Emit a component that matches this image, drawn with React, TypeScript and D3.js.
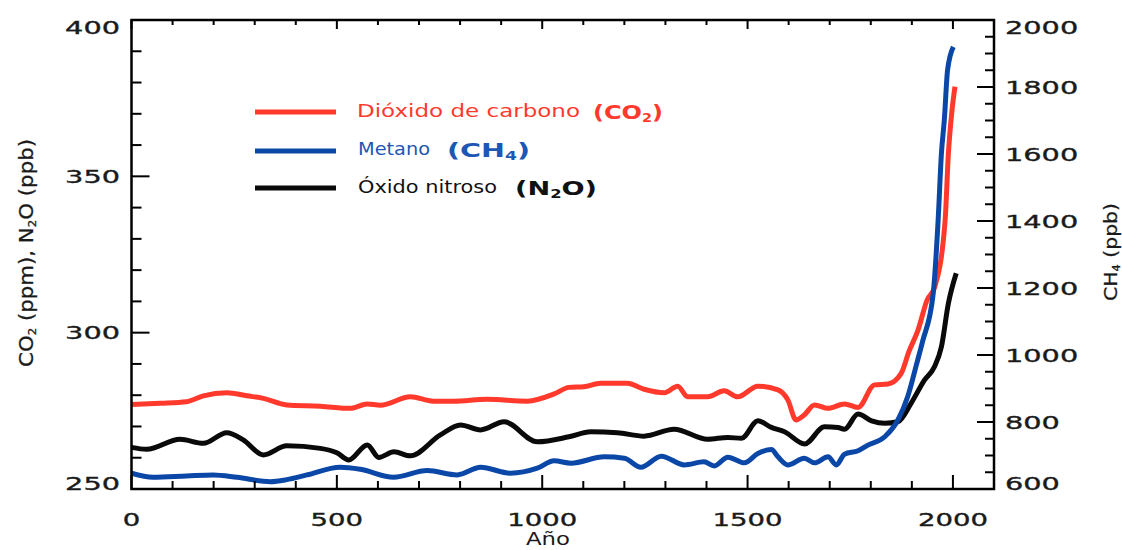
import React from 'react';
import * as d3 from 'd3';

// ---- Data ----
const co2Years = [0, 70, 134, 175, 232, 281, 321, 378, 460, 533, 574, 606, 679, 735, 784, 866, 964, 1029, 1065, 1101, 1142, 1207, 1248, 1297, 1330, 1354, 1403, 1443, 1476, 1525, 1574, 1598, 1618, 1638, 1663, 1696, 1736, 1769, 1809, 1842, 1874, 1893, 1915, 1937, 1956, 1981, 1989, 1997, 2005];
const co2Values = [277, 277.4, 277.9, 279.8, 280.8, 279.8, 279, 276.9, 276.5, 275.8, 277.2, 276.8, 279.5, 278.1, 278.1, 278.7, 278.1, 280.4, 282.5, 282.7, 283.8, 283.8, 281.9, 280.8, 282.9, 279.5, 279.5, 281.4, 279.5, 282.9, 281.7, 278.5, 272.1, 273.7, 276.9, 275.8, 277.2, 276.1, 283.3, 283.6, 287, 294, 300.8, 310.4, 314.7, 336, 357.4, 370.2, 378.7];

const ch4Years = [0, 52, 134, 199, 257, 338, 378, 427, 508, 557, 638, 720, 793, 850, 923, 988, 1029, 1070, 1151, 1200, 1240, 1290, 1346, 1394, 1419, 1452, 1492, 1525, 1558, 1574, 1598, 1638, 1663, 1696, 1716, 1736, 1769, 1793, 1834, 1866, 1890, 1912, 1926, 1952, 1964, 1972, 1979, 1987, 2001];
const ch4Values = [647, 635, 639, 642, 635, 622, 628, 642, 665, 659, 635, 655, 642, 665, 647, 662, 684, 677, 696, 692, 665, 698, 672, 681, 669, 695, 678, 706, 718, 696, 672, 692, 678, 696, 672, 704, 714, 731, 756, 806, 876, 975, 1040, 1184, 1403, 1602, 1701, 1851, 1920];

const n2oYears = [0, 37, 118, 175, 232, 272, 321, 378, 460, 500, 529, 574, 602, 639, 679, 752, 801, 850, 907, 988, 1065, 1118, 1183, 1248, 1321, 1403, 1452, 1485, 1525, 1558, 1590, 1639, 1687, 1720, 1736, 1769, 1802, 1834, 1866, 1898, 1931, 1955, 1972, 1989, 2008];
const n2oValues = [263.3, 262.7, 265.9, 264.6, 268, 265.7, 260.9, 263.8, 263, 261.6, 259.3, 264.1, 260.1, 261.9, 260.6, 267.3, 270.5, 268.9, 271.5, 265.1, 266.7, 268.3, 268, 266.9, 269.1, 265.9, 266.5, 266.2, 271.8, 269.7, 268.3, 264.4, 269.9, 269.7, 269.1, 274, 271.8, 271, 271.5, 277.4, 284.9, 289.1, 295.5, 309.4, 319];

const xMajorTicks = [0, 500, 1000, 1500, 2000];
const leftMajorTicks = [250, 300, 350, 400];
const rightMajorTicks = [600, 800, 1000, 1200, 1400, 1600, 1800, 2000];

const RED = '#ff3a2c';
const BLUE = '#0b47a6';
const BLACK = '#0a0a0a';

const FONT = '"DejaVu Sans", Verdana, sans-serif';

export default function App() {
  const W = 1122, H = 550;
  const L = 131.5, R = 994, T = 20, B = 489;
  const x = d3.scaleLinear().domain([0, 2100]).range([L, R]);
  const yL = d3.scaleLinear().domain([250, 400]).range([B, T]);
  const yR = d3.scaleLinear().domain([600, 2000]).range([B, T]);

  const lineL = d3.line<[number, number]>().x(d => x(d[0])).y(d => yL(d[1])).curve(d3.curveMonotoneX);
  const lineR = d3.line<[number, number]>().x(d => x(d[0])).y(d => yR(d[1])).curve(d3.curveMonotoneX);

  const co2 = co2Years.map((y, i) => [y, co2Values[i]] as [number, number]);
  const ch4 = ch4Years.map((y, i) => [y, ch4Values[i]] as [number, number]);
  const n2o = n2oYears.map((y, i) => [y, n2oValues[i]] as [number, number]);

  const xMinor = d3.range(0, 2101, 100).filter(v => !xMajorTicks.includes(v));
  const lMinor = d3.range(250, 401, 10).filter(v => !leftMajorTicks.includes(v));
  const rMinor = d3.range(600, 2001, 50).filter(v => !rightMajorTicks.includes(v));

  const clampY = (v: number) => Math.max(27, Math.min(483, v));
  const digitW = 18.3;

  return (
    <svg width={W} height={H} style={{ position: 'absolute', left: 0, top: 0, background: '#fff' }} fontFamily={FONT}>
      <rect x={0} y={0} width={W} height={H} fill="#fff" />
      <defs>
        <clipPath id="plotclip">
          <rect x={L} y={T - 10} width={R - L} height={B - T + 10} />
        </clipPath>
      </defs>

      {/* data lines */}
      <g clipPath="url(#plotclip)" fill="none" strokeWidth={5} strokeLinejoin="round" strokeLinecap="butt">
        <path d={lineL(co2) || ''} stroke={RED} />
        <path d={lineL(n2o) || ''} stroke={BLACK} />
        <path d={lineR(ch4) || ''} stroke={BLUE} />
      </g>

      {/* frame */}
      <rect x={L} y={T} width={R - L} height={B - T} fill="none" stroke="#000" strokeWidth={2.5} />

      {/* ticks */}
      <g stroke="#000" strokeWidth={2}>
        {xMajorTicks.map(v => <line key={'xb' + v} x1={x(v)} x2={x(v)} y1={B} y2={B - 14} />)}
        {xMinor.map(v => <line key={'xbm' + v} x1={x(v)} x2={x(v)} y1={B} y2={B - 8} />)}
        {xMajorTicks.map(v => <line key={'xt' + v} x1={x(v)} x2={x(v)} y1={T} y2={T + 9} />)}
        {xMinor.map(v => <line key={'xtm' + v} x1={x(v)} x2={x(v)} y1={T} y2={T + 5} />)}
        {leftMajorTicks.map(v => <line key={'lm' + v} x1={L} x2={L + 18} y1={yL(v)} y2={yL(v)} />)}
        {lMinor.map(v => <line key={'ln' + v} x1={L} x2={L + 10} y1={yL(v)} y2={yL(v)} />)}
        {rightMajorTicks.map(v => <line key={'rm' + v} x1={R} x2={R - 17} y1={yR(v)} y2={yR(v)} />)}
        {rMinor.map(v => <line key={'rn' + v} x1={R} x2={R - 9} y1={yR(v)} y2={yR(v)} />)}
      </g>

      {/* tick labels */}
      <g fontSize={18} fill="#1a1a1a" stroke="#1a1a1a" strokeWidth={0.35}>
        {xMajorTicks.map(v => (
          <text key={'xl' + v} x={x(v)} y={526} textAnchor="middle"
            textLength={String(v).length * 17.5} lengthAdjust="spacingAndGlyphs">{v}</text>
        ))}
        {leftMajorTicks.map(v => (
          <text key={'ll' + v} x={120} y={clampY(yL(v)) + 6.5} textAnchor="end"
            textLength={String(v).length * digitW} lengthAdjust="spacingAndGlyphs">{v}</text>
        ))}
        {rightMajorTicks.map(v => (
          <text key={'rl' + v} x={1005} y={clampY(yR(v)) + 6.5} textAnchor="start"
            textLength={String(v).length * digitW} lengthAdjust="spacingAndGlyphs">{v}</text>
        ))}
      </g>

      {/* axis titles */}
      <text x={548} y={545} textAnchor="middle" fontSize={17} fill="#1a1a1a"
        textLength={44} lengthAdjust="spacingAndGlyphs">Año</text>
      <text transform="translate(33,253) rotate(-90)" textAnchor="middle" fontSize={20} fill="#1a1a1a"
        stroke="#1a1a1a" strokeWidth={0.3} textLength={228} lengthAdjust="spacingAndGlyphs">
        CO<tspan fontSize={11} dy={3}>2</tspan><tspan dy={-3}> (ppm), N</tspan><tspan fontSize={11} dy={3}>2</tspan><tspan dy={-3}>O (ppb)</tspan>
      </text>
      <text transform="translate(1117,252) rotate(-90)" textAnchor="middle" fontSize={18} fill="#1a1a1a"
        stroke="#1a1a1a" strokeWidth={0.3} textLength={98} lengthAdjust="spacingAndGlyphs">
        CH<tspan fontSize={10} dy={3}>4</tspan><tspan dy={-3}> (ppb)</tspan>
      </text>

      {/* legend */}
      <g strokeWidth={5}>
        <line x1={255} x2={336} y1={112} y2={112} stroke={RED} />
        <line x1={255} x2={336} y1={151} y2={151} stroke={BLUE} />
        <line x1={255} x2={336} y1={188} y2={188} stroke={BLACK} />
      </g>
      <g fontSize={17}>
        <text x={357} y={117} fill={RED} textLength={223} lengthAdjust="spacingAndGlyphs">Dióxido de carbono</text>
        <text x={593} y={119} fill={RED} fontSize={20} fontWeight="bold" textLength={70} lengthAdjust="spacingAndGlyphs">
          (CO<tspan fontSize={12} dy={3}>2</tspan><tspan dy={-3}>)</tspan>
        </text>
        <text x={358} y={155} fill="#1d56b5" textLength={72} lengthAdjust="spacingAndGlyphs">Metano</text>
        <text x={447} y={157} fill="#1d56b5" fontSize={20} fontWeight="bold" textLength={83} lengthAdjust="spacingAndGlyphs">
          (CH<tspan fontSize={12} dy={3}>4</tspan><tspan dy={-3}>)</tspan>
        </text>
        <text x={358} y={193} fill="#111" textLength={139} lengthAdjust="spacingAndGlyphs">Óxido nitroso</text>
        <text x={515} y={195} fill="#111" fontSize={20} fontWeight="bold" textLength={82} lengthAdjust="spacingAndGlyphs">
          (N<tspan fontSize={12} dy={3}>2</tspan><tspan dy={-3}>O)</tspan>
        </text>
      </g>
    </svg>
  );
}
